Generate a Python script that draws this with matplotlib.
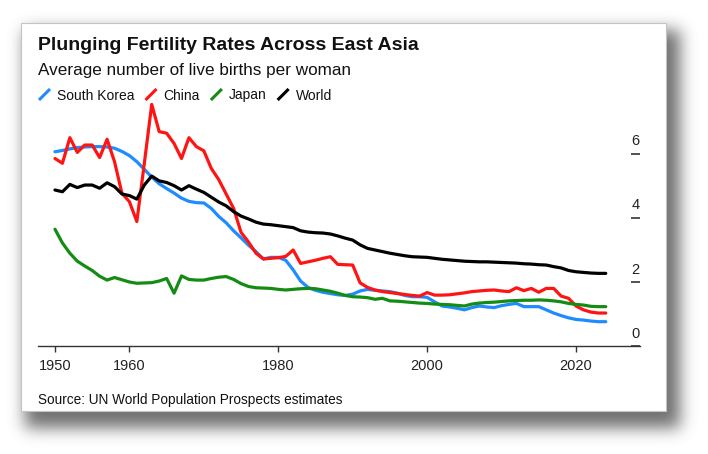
import numpy as np
import matplotlib
matplotlib.use("Agg")
import matplotlib.pyplot as plt
from matplotlib.lines import Line2D
from matplotlib.patches import Rectangle
from matplotlib import transforms

# Total fertility rate, 1950-2024
years = list(range(1950, 2025))

south_korea = [
    6.07, 6.11, 6.16, 6.20, 6.22, 6.23, 6.23, 6.22, 6.18, 6.08,
    5.95, 5.76, 5.52, 5.28, 5.07, 4.92, 4.78, 4.62, 4.52, 4.48,
    4.47, 4.30, 4.05, 3.85, 3.60, 3.38, 3.15, 2.95, 2.72, 2.77,
    2.77, 2.68, 2.38, 2.03, 1.83, 1.74, 1.68, 1.64, 1.60, 1.58,
    1.62, 1.72, 1.77, 1.74, 1.72, 1.70, 1.65, 1.58, 1.54, 1.54,
    1.52, 1.38, 1.25, 1.22, 1.18, 1.13, 1.20, 1.25, 1.22, 1.20,
    1.26, 1.30, 1.33, 1.23, 1.23, 1.23, 1.13, 1.03, 0.95, 0.88,
    0.83, 0.81, 0.78, 0.76, 0.76,
]
china = [
    5.86, 5.71, 6.51, 6.05, 6.28, 6.28, 5.89, 6.46, 5.76, 4.77,
    4.51, 3.89, 5.70, 7.55, 6.70, 6.65, 6.33, 5.86, 6.51, 6.23,
    6.10, 5.55, 5.20, 4.75, 4.30, 3.55, 3.25, 2.90, 2.72, 2.74,
    2.76, 2.80, 3.00, 2.58, 2.63, 2.68, 2.74, 2.79, 2.55, 2.54,
    2.53, 1.97, 1.83, 1.75, 1.70, 1.67, 1.64, 1.61, 1.58, 1.56,
    1.67, 1.59, 1.59, 1.60, 1.63, 1.66, 1.70, 1.72, 1.74, 1.75,
    1.72, 1.70, 1.82, 1.73, 1.80, 1.68, 1.80, 1.80, 1.56, 1.49,
    1.25, 1.13, 1.06, 1.03, 1.03,
]
japan = [
    3.65, 3.22, 2.90, 2.65, 2.50, 2.36, 2.18, 2.06, 2.14, 2.07,
    2.00, 1.96, 1.97, 1.98, 2.03, 2.11, 1.65, 2.19, 2.08, 2.06,
    2.06, 2.11, 2.15, 2.17, 2.08, 1.95, 1.86, 1.82, 1.81, 1.80,
    1.77, 1.75, 1.77, 1.79, 1.80, 1.79, 1.75, 1.71, 1.65, 1.58,
    1.54, 1.53, 1.51, 1.46, 1.49, 1.41, 1.40, 1.38, 1.36, 1.34,
    1.33, 1.31, 1.30, 1.29, 1.27, 1.25, 1.31, 1.34, 1.36, 1.37,
    1.39, 1.41, 1.42, 1.43, 1.43, 1.44, 1.43, 1.41, 1.38, 1.33,
    1.30, 1.28, 1.24, 1.23, 1.23,
]
world = [
    4.875, 4.82, 5.05, 4.95, 5.03, 5.03, 4.93, 5.10, 4.98, 4.75,
    4.70, 4.59, 5.03, 5.31, 5.16, 5.11, 5.01, 4.875, 5.01, 4.90,
    4.80, 4.65, 4.50, 4.38, 4.20, 4.06, 3.97, 3.87, 3.81, 3.79,
    3.76, 3.73, 3.70, 3.60, 3.56, 3.54, 3.53, 3.50, 3.44, 3.37,
    3.31, 3.16, 3.05, 3.00, 2.95, 2.90, 2.86, 2.82, 2.79, 2.78,
    2.77, 2.74, 2.71, 2.69, 2.67, 2.65, 2.64, 2.63, 2.63, 2.62,
    2.61, 2.60, 2.59, 2.57, 2.56, 2.54, 2.53, 2.48, 2.44, 2.36,
    2.32, 2.30, 2.28, 2.27, 2.27,
]

series_names = ["South Korea", "China", "Japan", "World"]
series_values = [south_korea, china, japan, world]
series_colors = ["#1e8cff", "#ff1414", "#148c14", "#000000"]

x_ticks = [1950, 1960, 1980, 2000, 2020]
y_ticks = [0, 2, 4, 6]

plt.rcParams["font.family"] = ["Liberation Sans", "DejaVu Sans"]

W, H = 708, 454
fig = plt.figure(figsize=(W / 100, H / 100), dpi=100)
fig.patch.set_facecolor("white")


def fx(px):
    return px / W


def fy(py):
    return 1 - py / H


# drop shadow behind the card
def blur(a, s):
    r = np.arange(-3 * s, 3 * s + 1)
    k = np.exp(-0.5 * (r / s) ** 2)
    k /= k.sum()
    a = np.apply_along_axis(lambda v: np.convolve(v, k, mode="same"), 1, a)
    a = np.apply_along_axis(lambda v: np.convolve(v, k, mode="same"), 0, a)
    return a

mask = np.zeros((H, W))
mask[30:428, 25:680] = 1.0
shade = blur(mask, 8) * 0.78
img = np.ones((H, W, 4))
img[..., :3] = 0.28
img[..., 3] = shade
fig.figimage(img, xo=0, yo=0, origin="upper", zorder=0)

card = Rectangle((fx(21), fy(410.5)), fx(665.5) - fx(21), fy(23) - fy(410.5),
                 transform=fig.transFigure, facecolor="white",
                 edgecolor="#c4c4c4", lw=0.8, zorder=0.5)
fig.add_artist(card)

# title block
fig.text(fx(38), fy(50), "Plunging Fertility Rates Across East Asia",
         fontsize=14, fontweight="bold", color="#111111", va="baseline", zorder=3)
fig.text(fx(38), fy(75), "Average number of live births per woman",
         fontsize=12.3, color="#111111", va="baseline", zorder=3)

# legend with slanted line markers
renderer = fig.canvas.get_renderer()
x0 = 39
for name, color in zip(series_names, series_colors):
    fig.add_artist(Line2D([fx(x0), fx(x0 + 11)], [fy(100), fy(89)],
                          transform=fig.transFigure, color=color, lw=2.2,
                          solid_capstyle="butt", zorder=3))
    t = fig.text(fx(x0 + 18), fy(99.5), name, fontsize=10, color="#111111",
                 va="baseline", zorder=3)
    bb = t.get_window_extent(renderer)
    x0 = bb.x1 + 11

fig.text(fx(38), fy(404), "Source: UN World Population Prospects estimates",
         fontsize=9.8, color="#111111", va="baseline", zorder=3)

# chart area
ax = fig.add_axes([fx(38), fy(346), fx(640) - fx(38), fy(100) - fy(346)], zorder=1)
ax.patch.set_visible(False)

for name, vals, color in zip(series_names, series_values, series_colors):
    ax.plot(years, vals, color=color, lw=2.3, solid_capstyle="round",
            solid_joinstyle="round", label=name)

ax.set_xlim(1947.72, 2028.6)
ax.set_ylim(0, 246 / 32)

for side in ["top", "left", "right"]:
    ax.spines[side].set_visible(False)
ax.spines["bottom"].set_color("#333333")
ax.spines["bottom"].set_linewidth(1.0)

ax.set_xticks(x_ticks)
ax.set_xticklabels([str(v) for v in x_ticks])
ax.tick_params(axis="x", direction="out", length=4.5, width=1, color="#333333",
               labelsize=10.5, labelcolor="#222222", pad=5)

ax.yaxis.tick_right()
ax.set_yticks(y_ticks)
ax.tick_params(axis="y", direction="in", length=6.5, width=1.2, color="#333333",
               labelright=False, labelleft=False)
lab_trans = transforms.offset_copy(ax.get_yaxis_transform(), fig=fig, y=8.5, units="dots")
for v in y_ticks:
    ax.text(0.9925, v, str(v), transform=lab_trans, ha="center", va="baseline",
            fontsize=10.5, color="#222222")

fig.savefig("out.png", dpi=100)
